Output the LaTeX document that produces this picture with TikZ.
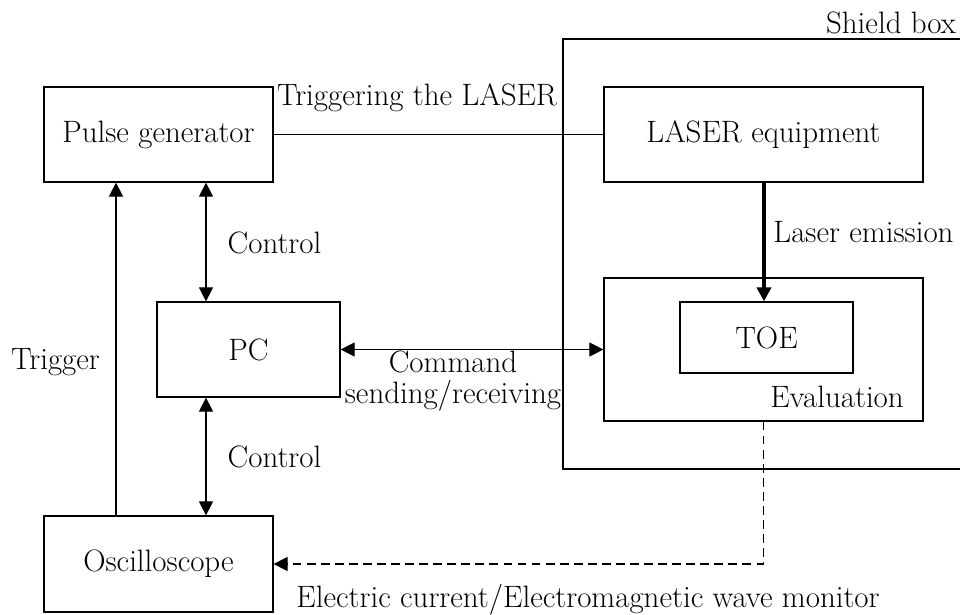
\documentclass[tikz,border=0pt]{standalone}
\usepackage{tikz}
\usetikzlibrary{arrows.meta,calc}

\begin{document}
\begin{tikzpicture}[x=0.02cm,y=-0.02cm,
        every node/.style={font=\fontsize{17.6}{17.6}\selectfont},
        box/.style={draw,line width=0.7pt,inner sep=0pt},
        link/.style={line width=0.7pt},
        tip/.style={-{Triangle[length=8pt,width=8pt]}},
        tips/.style={{Triangle[length=8pt,width=8pt]}-{Triangle[length=8pt,width=8pt]}}]
        \useasboundingbox (0,0) rectangle (960,615);

        \node[box,minimum width=229*0.02cm,minimum height=95*0.02cm] (pg) at (158.5,134.5) {Pulse generator};
        \node[box,minimum width=183*0.02cm,minimum height=95*0.02cm] (pc) at (248.5,349.5) {PC};
        \node[box,minimum width=229*0.02cm,minimum height=96*0.02cm] (osc) at (158.5,564) {Oscilloscope};
        \node[box,minimum width=319*0.02cm,minimum height=95*0.02cm] (laser) at (763.5,134.5) {LASER equipment};
        \node[box,minimum width=319*0.02cm,minimum height=143*0.02cm] (eval) at (763.5,349.5) {};
        \node[box,minimum width=173*0.02cm,minimum height=71*0.02cm] (toe) at (766.5,337.5) {TOE};

        \coordinate (sbtl) at (563,39);
        \coordinate (sbbl) at (563,469);
        \draw[link] (960,39) -- (sbtl) -- (sbbl) -- (960,469);
        \node (sblabel) at (891,23) {Shield box};

        \coordinate (trg) at (116,0);
        \coordinate (ctl) at (206,0);

        \draw[link] (pg.east) -- (laser.west);
        \draw[link,tip] (osc.north -| trg) -- (pg.south -| trg);
        \draw[link,tips] (pg.south -| ctl) -- (pc.north -| ctl);
        \draw[link,tips] (pc.south -| ctl) -- (osc.north -| ctl);
        \draw[link,tips] (pc.east) -- (eval.west);
        \draw[line width=2.4pt,-{Triangle[length=8pt,width=8pt]}] (laser.south -| 764,0) -- (toe.north -| 764,0);
        \draw[link,dashed,dash pattern=on 5pt off 3pt,tip] (eval.south) |- (osc.east);

        \node (trglabel) at (417,98) {Triggering the LASER};
        \node (ctl1) at (274.5,243) {Control};
        \node (ctl2) at (274.5,457) {Control};
        \node (trgtext) at (55.5,362) {Trigger};
        \node[align=center] (cmd) at (453,381) {Command\\sending/receiving};
        \node (emis) at (863.5,232) {Laser emission};
        \node (evlabel) at (837,397) {Evaluation};
        \node (mon) at (588,600) {Electric current/Electromagnetic wave monitor};

    \end{tikzpicture}
\end{document}
